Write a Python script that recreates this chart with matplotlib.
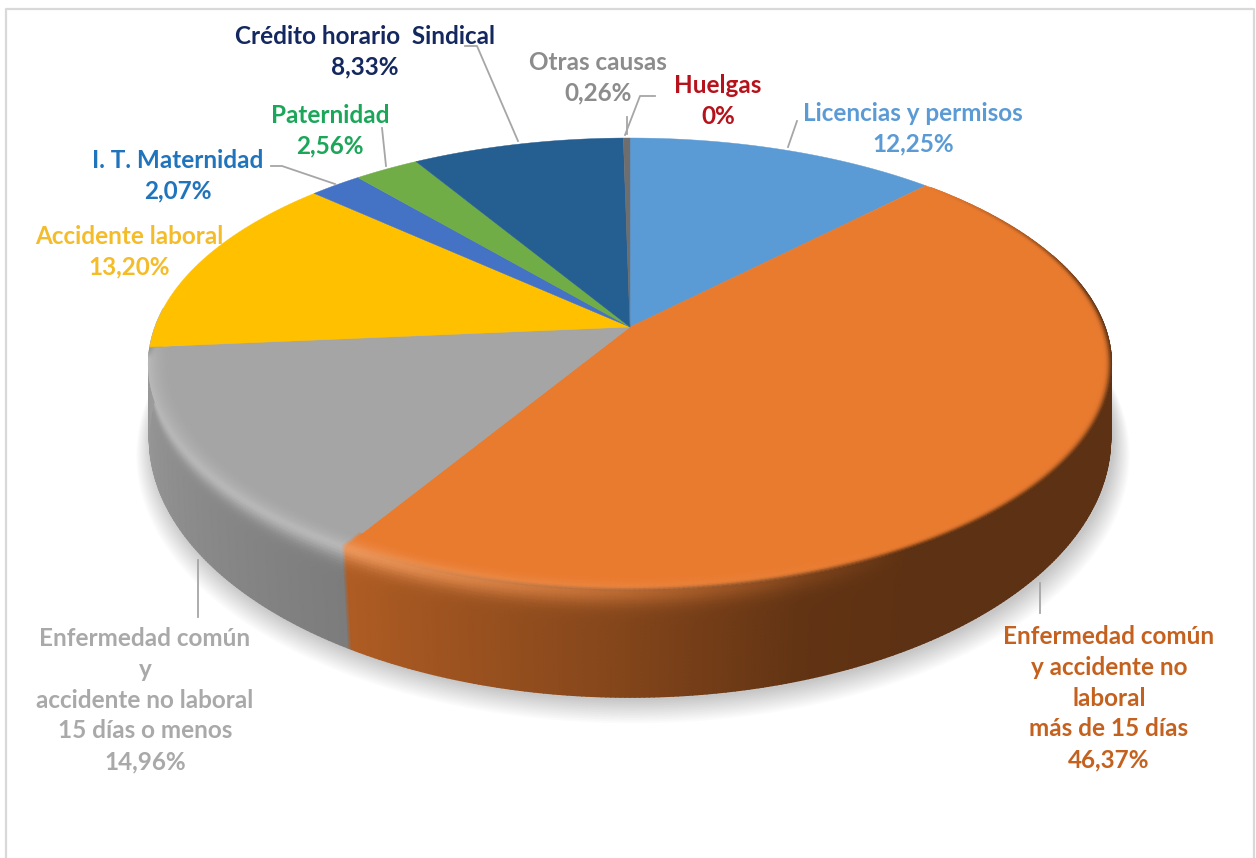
"""
Tarta 3D de causas de absentismo
"""
import numpy as np
from matplotlib import pyplot as plt
from matplotlib.colors import to_rgb

# datos
causas = ['Licencias y permisos', 'Enfermedad común\ny accidente no\nlaboral\nmás de 15 días',
          'Enfermedad común\ny\naccidente no laboral\n15 días o menos', 'Accidente laboral',
          'I. T. Maternidad', 'Paternidad', 'Crédito horario  Sindical', 'Otras causas', 'Huelgas']
porcentajes = [12.25, 46.37, 14.96, 13.20, 2.07, 2.56, 8.33, 0.26, 0.0]
etiquetas_pct = ['12,25%', '46,37%', '14,96%', '13,20%', '2,07%', '2,56%', '8,33%', '0,26%', '0%']

# estilo
colores = ['#5B9BD5', '#E97B2F', '#A5A5A5', '#FFC000', '#4472C4', '#70AD47', '#255E91', '#6E6E6E', '#C00000']
colores_texto = ['#5B9BD5', '#C5611F', '#A9A9A9', '#F5BC2A', '#1F74BC', '#1BA65A', '#14285F', '#8C8C8C', '#B5121B']
pos_texto = [(913, 129), (1109, 698), (145, 700), (129, 252), (178, 176), (330, 131), (365, 52), (598, 78), (718, 101)]
lineas_guia = [[(797, 121), (788, 147)], [(1040, 583), (1040, 613)], [(198, 560), (198, 617)],
               [(271, 166), (282, 166), (335, 184)], [(382, 128), (386, 166)],
               [(465, 46), (477, 46), (518, 141)], [(655, 96), (640, 96), (625, 135)], [(627, 117), (627, 134)]]

CX, CY = 630, 327


def arriba(theta, r=1.0):
    # cara superior, theta en grados desde las 12 en sentido horario
    u = r * np.sin(np.radians(theta))
    v = r * np.cos(np.radians(theta))
    d = 1 + 0.164 * v
    return CX + 475 * u / d, CY - 220 * v / d


def abajo(theta, r=1.0):
    # borde inferior de la pared
    u = r * np.sin(np.radians(theta))
    v = r * np.cos(np.radians(theta))
    d = 1 + 0.14 * v
    return CX + 476 * u / d, CY + 75 - 254 * v / d


def main():
    f = plt.figure(figsize=(12.56, 8.58), dpi=100)
    ax = f.add_axes([0, 0, 1, 1])
    ax.plot([6, 6, 1254, 1254], [880, 9, 9, 880], color='#D9D9D9', lw=1.6, zorder=1)

    limites = np.concatenate([[0], np.cumsum(porcentajes)]) * 3.6

    def color_de(theta):
        i = min(np.searchsorted(limites[1:], theta), len(colores) - 1)
        return np.array(to_rgb(colores[i]))

    # sombra
    th = np.linspace(0, 360, 361)
    for i in range(14):
        x, y = abajo(th, 1.0 + i * 0.0025)
        ax.fill(x + 3, y + 3 + i * 0.9, color='k', alpha=0.017, lw=0, zorder=2)

    # pared
    th_p = np.arange(70, 275.01, 0.5)
    s_niveles = np.linspace(0, 1, 30)
    X = np.zeros((len(th_p), len(s_niveles)))
    Y = np.zeros_like(X)
    C = np.zeros(X.shape + (3,))
    for i, t in enumerate(th_p):
        base = color_de(min(t, limites[3] - 0.1))
        sombra = np.interp(t, [150, 162, 183, 211, 240, 270], [0.40, 0.42, 0.58, 0.75, 0.85, 0.95])
        brillo = np.interp(t, [150, 185, 211, 270], [0, 0.6, 1, 1])
        pared = base * sombra
        claro = base + (1 - base) * 0.22 * brillo
        borde = brillo * claro + (1 - brillo) * pared
        xa, ya = arriba(t)
        xb, yb = abajo(t)
        X[i] = xa + (xb - xa) * s_niveles
        Y[i] = ya + (yb - ya) * s_niveles
        for j, s in enumerate(s_niveles):
            C[i, j] = pared + (borde - pared) * np.exp(-(s / 0.14) ** 2)
    ax.pcolormesh(X, Y, C, shading='gouraud', zorder=3)

    # cara superior
    for i, color in enumerate(colores):
        if porcentajes[i] == 0:
            continue
        th_w = np.linspace(limites[i], limites[i + 1], max(int(porcentajes[i] * 4), 3))
        x, y = arriba(th_w)
        ax.fill(np.r_[CX, x], np.r_[CY, y], color=color, lw=0.3, zorder=4)

    # bisel junto al borde
    r_niveles = np.linspace(0.95, 1.0, 12)
    th_b = np.arange(45, limites[3] + 0.01, 0.5)
    X = np.zeros((len(th_b), len(r_niveles)))
    Y = np.zeros_like(X)
    C = np.zeros(X.shape + (3,))
    for i, t in enumerate(th_b):
        base = color_de(t)
        brillo = np.interp(t, [150, 185, 211, 262, 265], [0, 0.6, 1, 1, 0.6])
        oscuro = np.interp(t, [45, 80, 150], [0, 1, 1]) * (1 - brillo)
        claro = base + (1 - base) * 0.22
        pared = base * 0.40
        X[i], Y[i] = arriba(t, r_niveles)
        for j, r in enumerate(r_niveles):
            q = (r - 0.95) / 0.05
            c = base + brillo * (claro - base) * q ** 2
            C[i, j] = c + oscuro * (pared - base) * max(0, (q - 0.7) / 0.3) ** 2
    ax.pcolormesh(X, Y, C, shading='gouraud', zorder=5)

    # lineas guia y textos
    for linea in lineas_guia:
        xs, ys = zip(*linea)
        ax.plot(xs, ys, color='#A6A6A6', lw=1.3, zorder=6)
    for causa, pct, c, (x, y) in zip(causas, etiquetas_pct, colores_texto, pos_texto):
        ax.text(x, y, causa + '\n' + pct, color=c, ha='center', va='center', family='Lato',
                weight='bold', fontsize=17.5, linespacing=1.41, zorder=7)

    ax.set_xlim(0, 1256)
    ax.set_ylim(858, 0)
    ax.axis('off')
    f.savefig('out.png', dpi=100)


if __name__ == '__main__':
    main()
